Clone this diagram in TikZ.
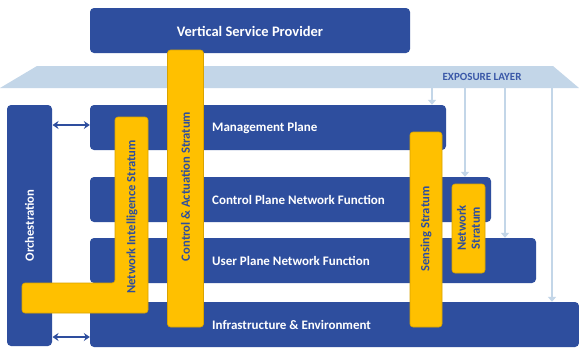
\documentclass[tikz,border=0pt]{standalone}
\usepackage{fontspec}
\setmainfont{Carlito}
\usetikzlibrary{arrows.meta}
\definecolor{dblue}{HTML}{2E4E9E}
\definecolor{ylw}{HTML}{FFC000}
\definecolor{ylwd}{HTML}{D9A300}
\definecolor{lblue}{HTML}{C3D6E8}
\definecolor{ltxt}{HTML}{3A58A8}
\begin{document}
\begin{tikzpicture}[x=1pt,y=-1pt,
  bluebox/.style={fill=dblue, draw=none, rounded corners=4pt, inner sep=0pt},
  ybar/.style={fill=ylw, draw=ylwd, line width=0.6pt, rounded corners=3pt, inner sep=0pt},
  wlab/.style={text=white, font=\fontsize{13}{15}\selectfont\bfseries, anchor=west, inner sep=0pt},
  ylab/.style={text=dblue, font=\fontsize{12.6}{14}\selectfont\bfseries, rotate=90, inner sep=0pt, align=center},
  exparrow/.style={draw=lblue, line width=1.8pt, -{Triangle[width=8pt,length=5pt]}},
  dblarrow/.style={draw=dblue, line width=1.8pt, {Stealth[width=8pt,length=6pt]}-{Stealth[width=8pt,length=6pt]}}
]
\useasboundingbox (0,0) rectangle (579,349);
\fill[white] (0,0) rectangle (579,349);

% Vertical service provider
\node[bluebox, minimum width=320pt, minimum height=45pt] (vsp) at (250,30.5) {};
\node[text=white, font=\fontsize{14.5}{16}\selectfont\bfseries] (vspl) at (250,31) {Vertical Service Provider};

% Exposure layer
\fill[lblue] (37,66) -- (553,66) -- (579,88) -- (0,88) -- cycle;
\node[text=ltxt, font=\fontsize{11}{12}\selectfont\bfseries] (expl) at (482,77) {EXPOSURE LAYER};

% Planes
\node[bluebox, minimum width=356pt, minimum height=45pt] (mp) at (268,127.5) {};
\node[bluebox, minimum width=401pt, minimum height=45pt] (cp) at (290.5,199.5) {};
\node[bluebox, minimum width=446pt, minimum height=45pt] (up) at (313,260.5) {};
\node[bluebox, minimum width=489pt, minimum height=45pt] (inf) at (334.5,324.5) {};
\node[wlab] (mpl) at (212,128) {Management Plane};
\node[wlab] (cpl) at (212,199.5) {Control Plane Network Function};
\node[wlab] (upl) at (212,261) {User Plane Network Function};
\node[wlab] (infl) at (212,325) {Infrastructure \& Environment};

% Orchestration
\node[bluebox, minimum width=45pt, minimum height=241pt] (orch) at (29.5,225.5) {};
\node[text=white, font=\fontsize{12.6}{14}\selectfont\bfseries, rotate=90] (orchl) at (29.5,225.5) {Orchestration};

% Exposure arrows
\coordinate (e1) at (432,88);
\coordinate (e2) at (465,88);
\coordinate (e3) at (505,88);
\coordinate (e4) at (552,88);
\draw[exparrow] (e1) -- (e1 |- mp.north);
\draw[exparrow] (e2) -- (e2 |- cp.north);
\draw[exparrow] (e3) -- (e3 |- up.north);
\draw[exparrow] (e4) -- (e4 |- inf.north);

% Double arrows
\coordinate (a1) at (52.5,125);
\coordinate (a2) at (52.5,337);
\draw[dblarrow] (a1) -- (a1 -| mp.west);
\draw[dblarrow] (a2) -- (a2 -| inf.west);

% Network Intelligence Stratum (L shape)
\draw[ybar] (115,117) -- (148,117) -- (148,313) -- (22,313) -- (22,283) -- (115,283) -- cycle;
\node[ylab] (nil) at (132,217) {Network Intelligence Stratum};

% Control & Actuation Stratum
\node[ybar, minimum width=36pt, minimum height=277pt] (cas) at (185.5,188.5) {};
\node[ylab] (casl) at (185.5,186.5) {Control \& Actuation Stratum};

% Sensing Stratum
\node[ybar, minimum width=32pt, minimum height=195pt] (ss) at (426,229.5) {};
\node[ylab] (ssl) at (426,229) {Sensing Stratum};

% Network Stratum
\node[ybar, minimum width=33pt, minimum height=89pt] (ns) at (468.5,228.5) {};
\node[ylab] (nsl) at (468.5,228) {Network\\Stratum};
\end{tikzpicture}
\end{document}
